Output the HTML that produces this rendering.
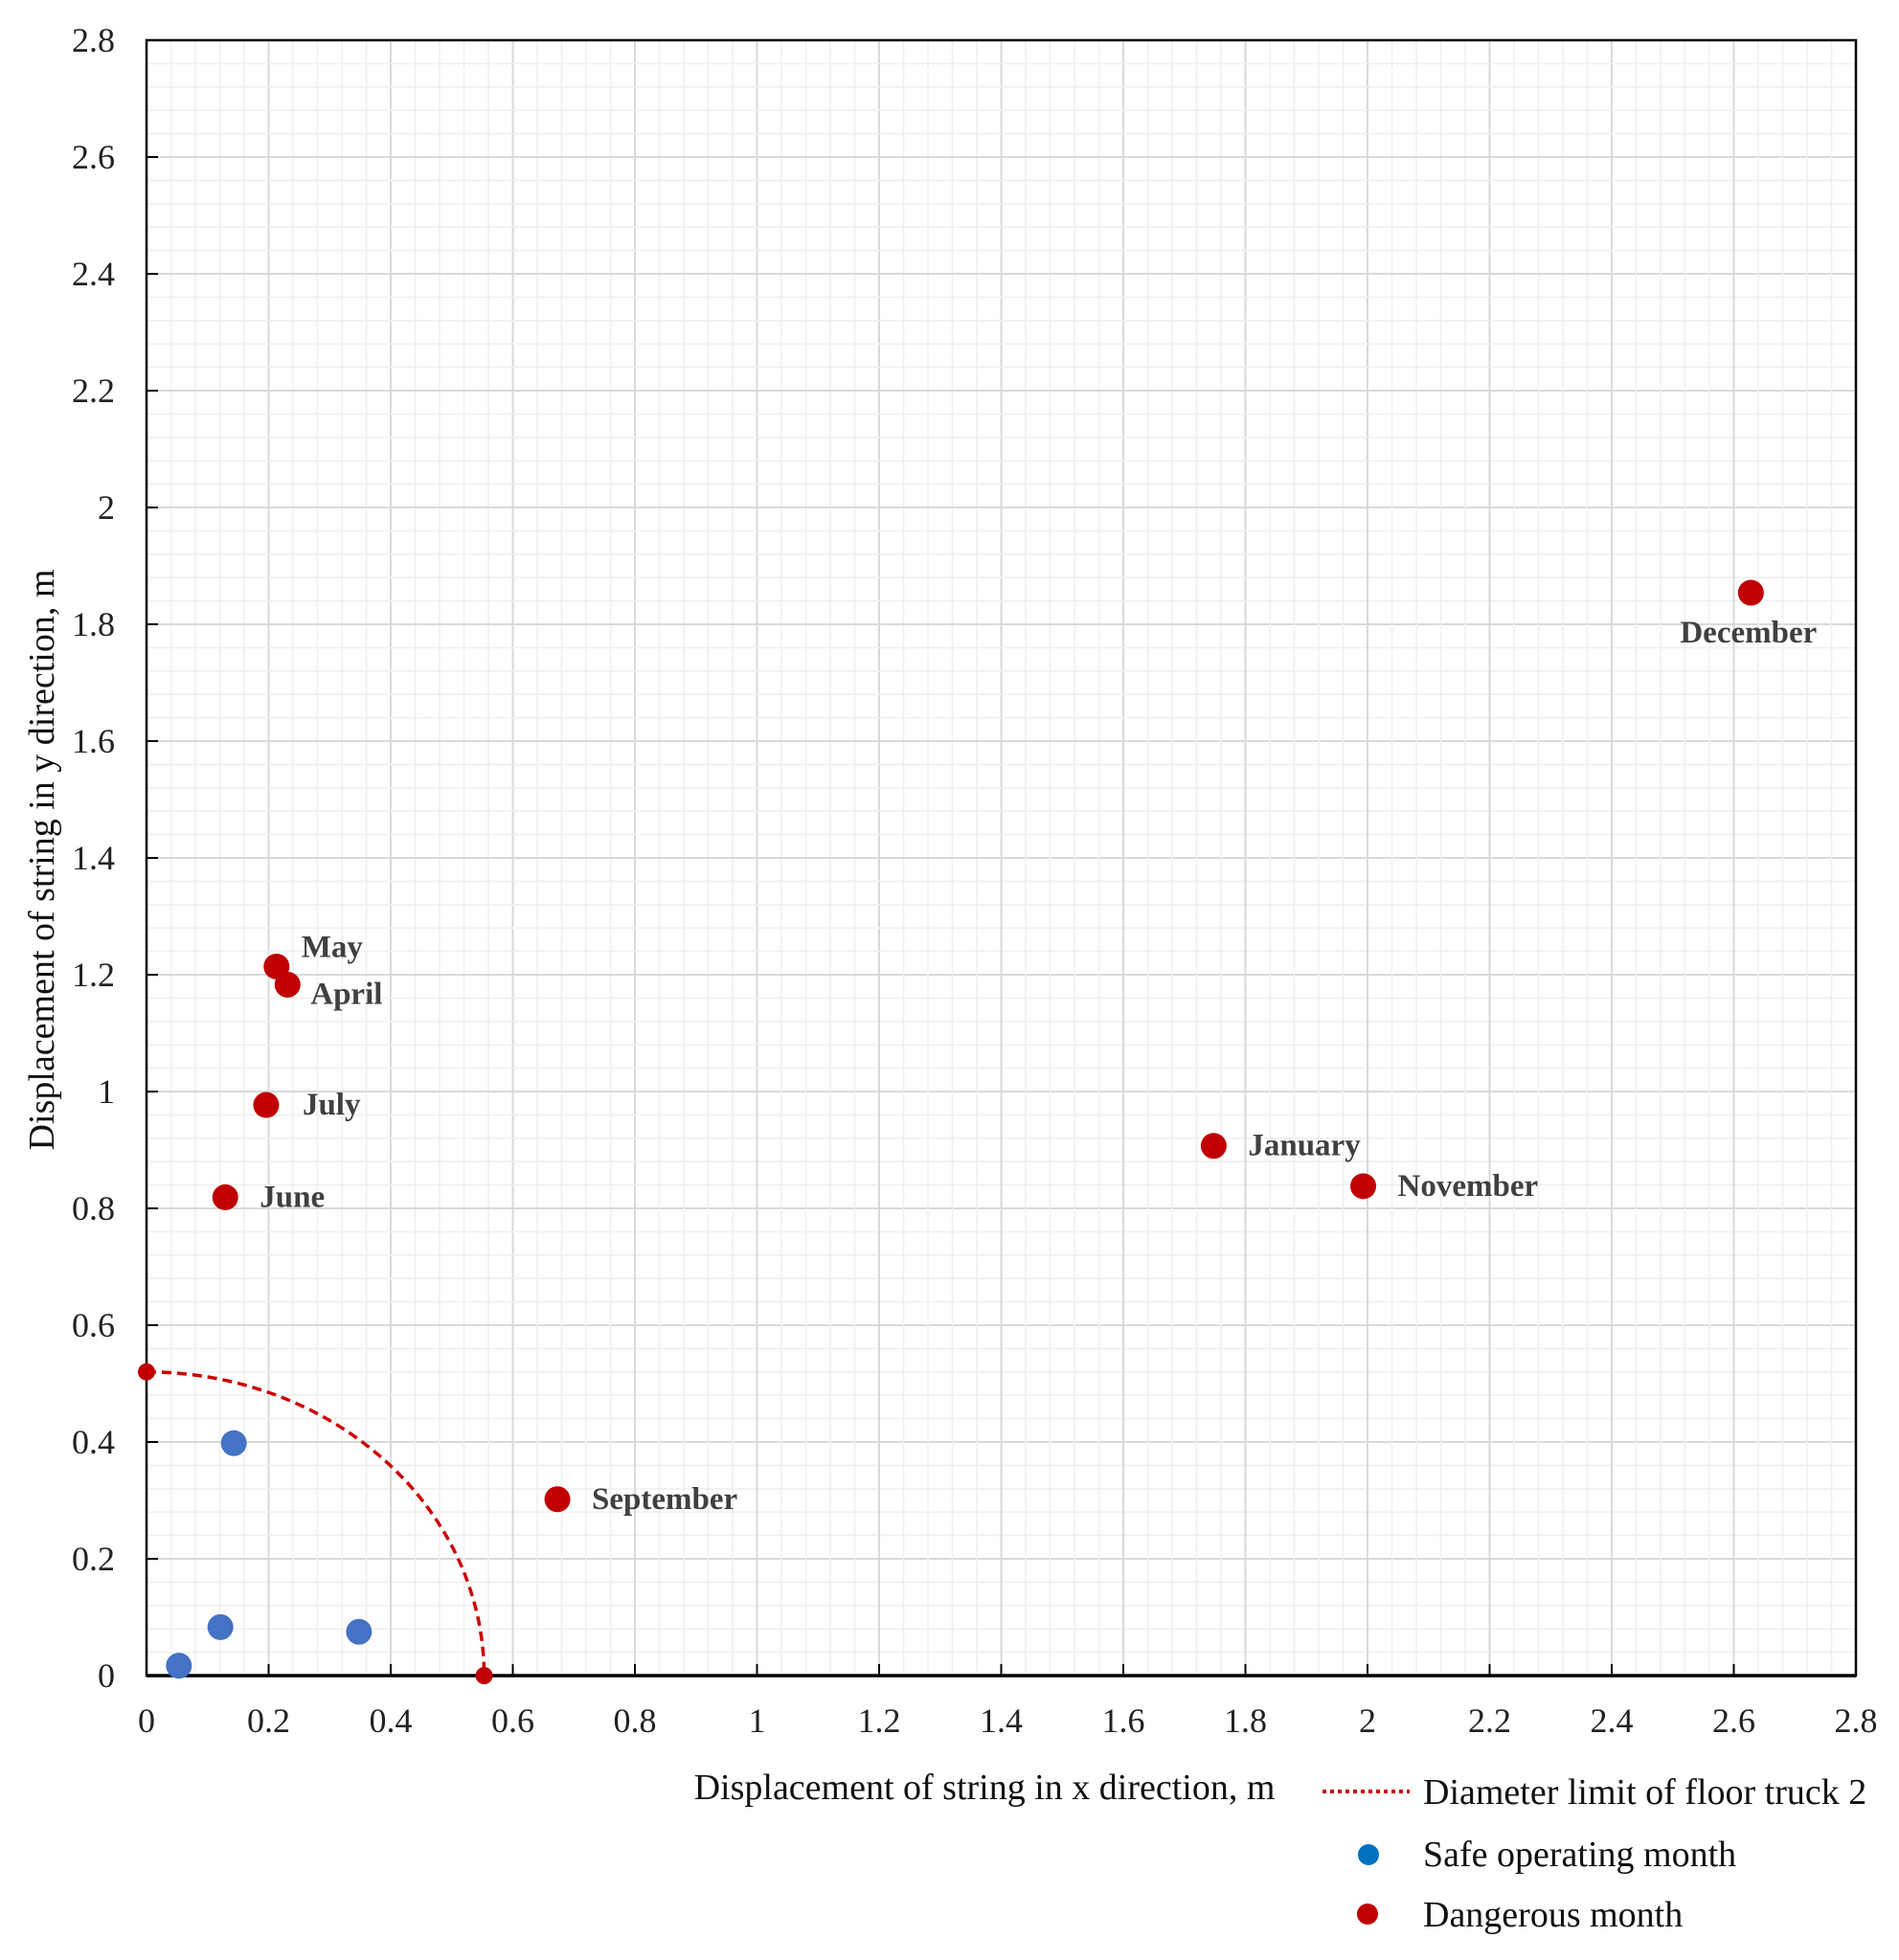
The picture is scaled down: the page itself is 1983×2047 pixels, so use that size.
<!DOCTYPE html>
<html><head><meta charset="utf-8"><style>
body{margin:0;background:#fff}
svg{display:block;font-family:"Liberation Serif",serif}
</style></head><body>
<svg id="chart" width="1983" height="2047" viewBox="0 0 1983 2047" xmlns="http://www.w3.org/2000/svg"></svg>
<script>
const xTicks=["0","0.2","0.4","0.6","0.8","1","1.2","1.4","1.6","1.8","2","2.2","2.4","2.6","2.8"];
const yTicks=["0","0.2","0.4","0.6","0.8","1","1.2","1.4","1.6","1.8","2","2.2","2.4","2.6","2.8"];
const dangerNames=["May","April","July","June","January","November","December","September"];
const dangerX=[0.213,0.231,0.196,0.129,1.748,1.993,2.628,0.673];
const dangerY=[1.214,1.183,0.977,0.819,0.907,0.838,1.854,0.302];
const labelDx=[26,24,38,36,36,36,-74,36];
const labelDy=[-10,20,10,10,10,10,52,10];
const safeX=[0.143,0.121,0.348,0.053];
const safeY=[0.398,0.083,0.075,0.017];
const limitRx=[0.553];
const limitRy=[0.52];

const L=153,R=1938,T=42,B=1750,XMAX=2.8,YMAX=2.8;
const sx=v=>L+(R-L)*v/XMAX, sy=v=>B-(B-T)*v/YMAX;
const svg=document.getElementById('chart');
const NS='http://www.w3.org/2000/svg';
function mk(tag,attrs,parent){const e=document.createElementNS(NS,tag);for(const k in attrs)e.setAttribute(k,attrs[k]);(parent||svg).appendChild(e);return e;}

const grid=mk('g',{});


for(let i=0;i<=70;i++){const v=i*0.04;const major=i%5===0;
  const c=major?'#d9d9d9':'#f0f0f0',w=major?2:1.6;
  mk('line',{x1:sx(v),x2:sx(v),y1:T,y2:B,stroke:c,'stroke-width':w},grid);
  mk('line',{x1:L,x2:R,y1:sy(v),y2:sy(v),stroke:c,'stroke-width':w},grid);}
const frame=mk('rect',{x:L,y:T,width:R-L,height:B-T,fill:'none',stroke:'#000','stroke-width':2.5});


mk('line',{x1:L,x2:R,y1:B,y2:B,stroke:'#000','stroke-width':3.5});

const xa=mk('g',{});


xTicks.forEach((t,i)=>{const x=sx(i*0.2);
  mk('line',{x1:x,x2:x,y1:B,y2:B-12,stroke:'#000','stroke-width':2},xa);
  const tx=mk('text',{x:x,y:1809,'font-size':36,'text-anchor':'middle',fill:'#222'},xa);tx.textContent=t;});
const ya=mk('g',{});


yTicks.forEach((t,i)=>{const y=sy(i*0.2);
  mk('line',{x1:L,x2:L+12,y1:y,y2:y,stroke:'#000','stroke-width':2},ya);
  const tx=mk('text',{x:120,y:y+12,'font-size':36,'text-anchor':'end',fill:'#222'},ya);tx.textContent=t;});

const xt=mk('text',{x:1028,y:1879,'font-size':38,'text-anchor':'middle',fill:'#111'});
xt.textContent='Displacement of string in x direction, m';


const yt=mk('text',{x:0,y:0,'font-size':38,'text-anchor':'middle',fill:'#111',transform:'translate(56,898) rotate(-90)'});
yt.textContent='Displacement of string in y direction, m';



const rx=sx(limitRx[0])-sx(0), ry=sy(0)-sy(limitRy[0]);
const arc=mk('path',{d:`M ${sx(0)} ${sy(limitRy[0])} A ${rx} ${ry} 0 0 1 ${sx(limitRx[0])} ${sy(0)}`,fill:'none',stroke:'#cc0000','stroke-width':3.5,'stroke-dasharray':'10 6'});


[[0,limitRy[0]],[limitRx[0],0]].forEach(p=>{const c=mk('circle',{cx:sx(p[0]),cy:sy(p[1]),r:9,fill:'#c00000'});
  
  });

safeX.forEach((v,i)=>{const c=mk('circle',{cx:sx(v),cy:sy(safeY[i]),r:13.5,fill:'#4472c4'});
  
  });
dangerX.forEach((v,i)=>{const cx=sx(v),cy=sy(dangerY[i]);
  const c=mk('circle',{cx:cx,cy:cy,r:13.5,fill:'#c00000'});
  
  
  const t=mk('text',{x:cx+labelDx[i],y:cy+labelDy[i],'font-size':33,'font-weight':'bold',fill:'#404040'});
  t.textContent=dangerNames[i];
  
  });

const lg=mk('g',{});


const l1=mk('line',{x1:1381,x2:1472,y1:1871,y2:1871,stroke:'#cc0000','stroke-width':4,'stroke-dasharray':'4 4'},lg);


const t1=mk('text',{x:1486,y:1884,'font-size':38,fill:'#111'},lg);t1.textContent='Diameter limit of floor truck 2';


const c2=mk('circle',{cx:1429,cy:1937,r:11,fill:'#0070c0'},lg);


const t2=mk('text',{x:1486,y:1949,'font-size':38,fill:'#111'},lg);t2.textContent='Safe operating month';


const c3=mk('circle',{cx:1428,cy:1999,r:11,fill:'#c00000'},lg);


const t3=mk('text',{x:1486,y:2012,'font-size':38,fill:'#111'},lg);t3.textContent='Dangerous month';


</script>
</body></html>
